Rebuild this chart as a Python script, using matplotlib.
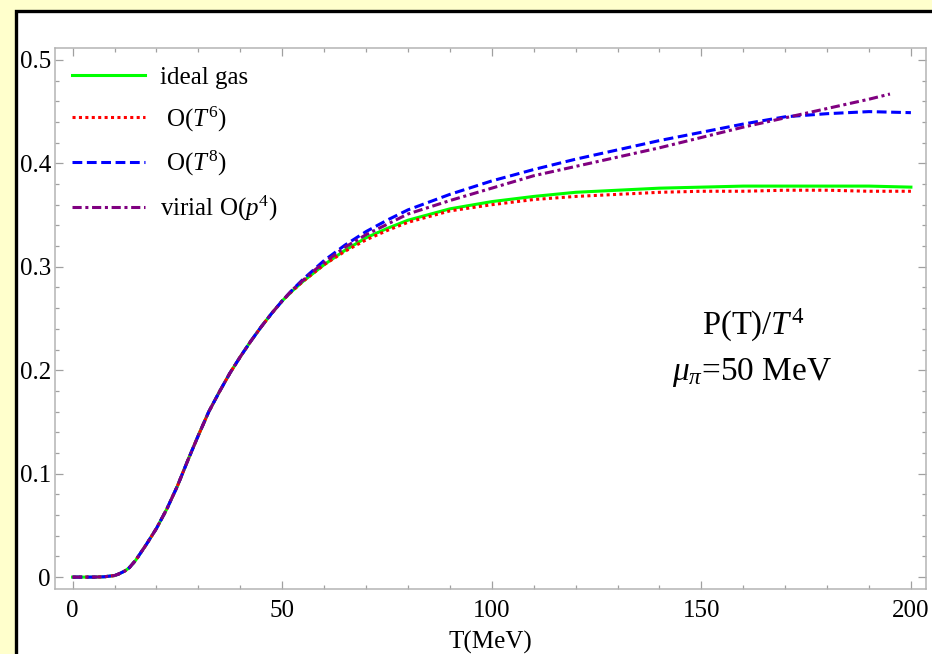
import matplotlib
matplotlib.use("Agg")
import matplotlib.pyplot as plt
from matplotlib.patches import Rectangle
from matplotlib.ticker import MultipleLocator

plt.rcParams['font.family'] = ['Liberation Serif', 'DejaVu Serif']
plt.rcParams['mathtext.fontset'] = 'custom'
plt.rcParams['mathtext.rm'] = 'Liberation Serif'
plt.rcParams['mathtext.it'] = 'Liberation Serif:italic'

# temperature grid (MeV): fine steps where the curves bend, coarser above
T_low = [0, 5, 7.5, 10, 11, 12.5, 13.5, 15, 17.5, 20, 22.5, 25, 27.5, 30, 32.5, 35,
         37.5, 40, 42.5, 45, 47.5, 50]
T_high = [52.5, 55, 57.5, 60, 65, 70, 75, 80, 90, 100, 110, 120, 130, 140, 150, 160,
          170, 180, 190, 200]
T = T_low + T_high
# the virial curve stops a little short of 200 MeV
T_virial = T[:-1] + [195]
T_virial[-2:] = [190, 195]

# below ~50 MeV all four curves coincide
p_low = [0.0, 0.0, 0.0003, 0.0015, 0.003, 0.006, 0.009, 0.016, 0.031, 0.047, 0.066,
         0.088, 0.113, 0.137, 0.160, 0.179, 0.197, 0.213, 0.228, 0.242, 0.255, 0.267]

p_ideal = p_low + [0.277, 0.286, 0.294, 0.302, 0.316, 0.328, 0.337, 0.345, 0.356,
                   0.363, 0.368, 0.372, 0.374, 0.376, 0.377, 0.378, 0.378, 0.378,
                   0.378, 0.377]
p_T6 = p_low + [0.277, 0.286, 0.294, 0.302, 0.315, 0.326, 0.335, 0.343, 0.354,
                0.360, 0.365, 0.368, 0.370, 0.372, 0.373, 0.373, 0.374, 0.374,
                0.373, 0.373]
p_T8 = p_low + [0.278, 0.288, 0.297, 0.306, 0.321, 0.334, 0.345, 0.355, 0.370,
                0.383, 0.394, 0.404, 0.413, 0.422, 0.430, 0.438, 0.445, 0.448,
                0.450, 0.449]
p_virial = p_low + [0.278, 0.287, 0.296, 0.304, 0.319, 0.331, 0.341, 0.351, 0.364,
                    0.376, 0.388, 0.397, 0.406, 0.415, 0.425, 0.435, 0.444, 0.453,
                    0.462, 0.467]

fig = plt.figure(figsize=(9.32, 6.54), dpi=100, facecolor='#ffffcc')
# white panel with black frame, running off the right and bottom edges
fig.patches.append(Rectangle((16 / 932, -0.1), 1.2, 1.1 - 11 / 654,
                             transform=fig.transFigure, facecolor='white',
                             edgecolor='black', linewidth=2.4, zorder=-5))

ax = fig.add_axes([55 / 932, 1 - 589 / 654, (926 - 55) / 932, (589 - 48) / 654])
ax.set_facecolor('none')

lw = 2.2
ax.plot(T, p_ideal, color='#00ff00', lw=lw, label='ideal gas')
ax.plot(T, p_T6, color='#ff0000', lw=lw, linestyle=(0, (1, 1.1)), label=' O($T^6$)')
ax.plot(T, p_T8, color='#0000ff', lw=lw, linestyle=(0, (3.2, 1.5)), label=' O($T^8$)')
ax.plot(T_virial, p_virial, color='#800080', lw=lw,
        linestyle=(0, (3, 1.2, 1, 1.2)), label='virial O($p^4$)')

ax.set_xlim(-4.2, 203.6)
ax.set_ylim(-0.0115, 0.5115)
ax.xaxis.set_major_locator(MultipleLocator(50))
ax.xaxis.set_minor_locator(MultipleLocator(10))
ax.yaxis.set_major_locator(MultipleLocator(0.1))
ax.yaxis.set_minor_locator(MultipleLocator(0.02))
ax.yaxis.set_major_formatter(lambda v, pos: '0' if abs(v) < 1e-9 else f'{v:.1f}')

for s in ax.spines.values():
    s.set_color('#b4b4b4')
    s.set_linewidth(1.1)
ax.tick_params(which='both', direction='in', top=True, right=True, color='#a0a0a0',
               labelsize=18, width=0.9)
ax.tick_params(which='major', length=5.5)
ax.tick_params(which='minor', length=3)
ax.tick_params(axis='x', pad=8)
ax.tick_params(axis='y', pad=3)

ax.set_xlabel('T(MeV)', fontsize=18, labelpad=6)

ax.legend(loc='upper left', bbox_to_anchor=(0.02, 0.966), frameon=False, fontsize=18,
          handlelength=2.9, handletextpad=0.6, labelspacing=0.62, borderpad=0,
          borderaxespad=0)

ax.text(0.801, 0.487, 'P(T)/$T^4$', transform=ax.transAxes, fontsize=23.5,
        ha='center', va='center')
ax.text(0.8, 0.40, r'$\mu_\pi$=50 MeV', transform=ax.transAxes, fontsize=24,
        ha='center', va='center')

fig.savefig('out.png', dpi=100, facecolor=fig.get_facecolor())
